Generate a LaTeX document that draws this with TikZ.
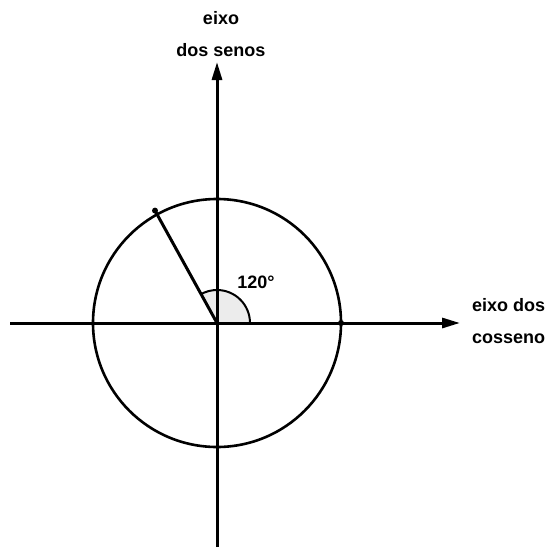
\documentclass[tikz,border=0pt]{standalone}
\usepackage{fontspec}
\setmainfont{Liberation Sans}
\usetikzlibrary{arrows.meta}
\begin{document}
\begin{tikzpicture}[x=1pt,y=-1pt,
  axis/.style={line width=3pt,-{Triangle[length=18pt,width=10pt]}},
  lbl/.style={font=\bfseries\fontsize{18}{32}\selectfont,align=left,inner sep=0pt},
  dot/.style={circle,fill=black,inner sep=0pt,minimum size=6pt}]
\useasboundingbox (0,0) rectangle (548,551);
\coordinate (O) at (217,323);
\coordinate (xl) at (10,323);
\coordinate (xr) at (460,323);
\coordinate (yb) at (217,547);
\coordinate (yt) at (217,62);
% angle sector
\fill[gray!15] (O) -- ++(33,0) arc[start angle=0,end angle=-120,x radius=33,y radius=33] -- cycle;
\draw[line width=2pt] (O)++(33,0) arc[start angle=0,end angle=-120,x radius=33,y radius=33];
\draw[axis] (xl) -- (xr);
\draw[axis] (yb) -- (yt);
\draw[line width=2.6pt] (O) circle[radius=124];
\node[dot] (P) at (155,210.6) {};
\node[dot] (Q) at (341,323) {};
\node[dot,minimum size=5pt] (C) at (O) {};
\draw[line width=3pt] (C.center) -- (P.center);
\node[lbl,align=center] (ys) at (221,34) {eixo\\dos senos};
\node[lbl,anchor=west] (xs) at (472,321) {eixo dos\\cosseno};
\node[lbl,font=\bfseries\fontsize{18}{20}\selectfont] (ang) at (256,282) {120°};
\end{tikzpicture}
\end{document}
